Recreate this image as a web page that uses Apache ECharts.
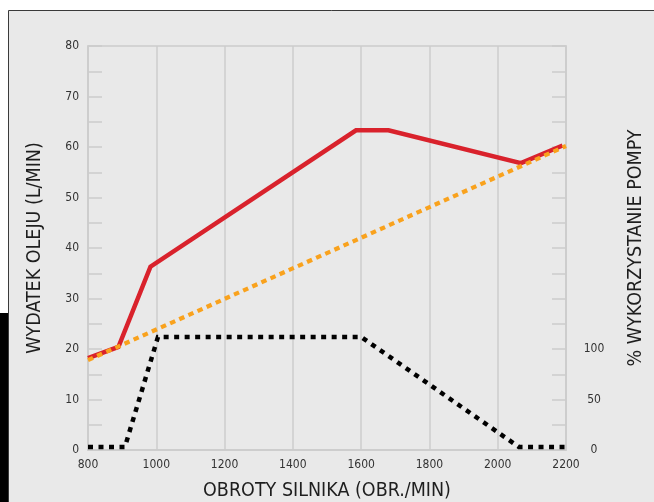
<!DOCTYPE html>
<html>
<head>
<meta charset="utf-8">
<script src="https://cdn.jsdelivr.net/npm/echarts@6/dist/echarts.min.js"></script>
<style>
html,body{margin:0;padding:0;background:#fff;}
#c{width:654px;height:502px;}
</style>
</head>
<body>
<div id="c"></div>
<script>
// Data
const xTicks = [800, 1000, 1200, 1400, 1600, 1800, 2000, 2200];
const leftTicks = [0, 10, 20, 30, 40, 50, 60, 70, 80];
const rightTicks = [0, 50, 100];
const oilFlow = [[800, 18.2], [889, 20.4], [983, 36.3], [1585, 63.3], [1680, 63.3], [2068, 56.8], [2190, 60.3]];
const pumpFlow = [[800, 17.8], [2200, 60.2]];
const pumpUsage = [[800, 3], [908, 3], [1005, 112], [1600, 112], [2062, 3], [2200, 3]];
const noteLines = ['1600 obr./min', '60 l/min'];
const noteAt = [1582, 70];

const FONT = '"Liberation Sans Narrow", "DejaVu Sans Condensed", "Liberation Sans", sans-serif';
const chart = echarts.init(document.getElementById('c'));
chart.setOption({
  backgroundColor: '#ffffff',
  animation: false,
  textStyle: { fontFamily: FONT },
  graphic: [
    { type: 'rect', z: -10, shape: { x: 8.5, y: 10.5, width: 660, height: 500 },
      style: { fill: '#e9e9e9', stroke: '#3a3a3a', lineWidth: 1 } },
    { type: 'rect', z: -9, shape: { x: 0, y: 313, width: 8, height: 189 }, style: { fill: '#000' } }
  ],
  grid: { left: 88, right: 88, top: 46, bottom: 52, show: true, borderColor: '#cccccc', borderWidth: 1.5,
    backgroundColor: 'transparent', containLabel: false, outerBoundsMode: 'none' },
  xAxis: {
    type: 'value', min: xTicks[0], max: xTicks[xTicks.length - 1], interval: 200,
    name: 'OBROTY SILNIKA (OBR./MIN)', nameLocation: 'middle', nameGap: 31,
    nameTextStyle: { fontSize: 19.5, color: '#1e1e1e', fontFamily: FONT },
    axisLine: { show: true, lineStyle: { color: '#cccccc', width: 1.5 } },
    axisTick: { show: false },
    splitLine: { show: true, lineStyle: { color: '#cccccc', width: 1.5 } },
    axisLabel: { color: '#333333', fontSize: 12, margin: 9, showMinLabel: true, showMaxLabel: true,
      formatter: v => xTicks.includes(v) ? String(v) : '' }
  },
  yAxis: [
    {
      type: 'value', min: 0, max: 80, interval: 5, position: 'left',
      name: 'WYDATEK OLEJU (L/MIN)', nameLocation: 'middle', nameGap: 43, nameRotate: 90,
      nameTextStyle: { fontSize: 19.5, color: '#1e1e1e', fontFamily: FONT },
      axisLine: { show: true, lineStyle: { color: '#cccccc', width: 1.5 } },
      axisTick: { show: true, inside: true, length: 14, lineStyle: { color: '#cccccc', width: 1.5 } },
      splitLine: { show: false },
      axisLabel: { color: '#333333', fontSize: 12, margin: 9,
        formatter: v => leftTicks.includes(v) ? String(v) : '' }
    },
    {
      type: 'value', min: 0, max: 400, interval: 25, position: 'right',
      name: '% WYKORZYSTANIE POMPY', nameLocation: 'middle', nameGap: 60, nameRotate: 90,
      nameTextStyle: { fontSize: 19.5, color: '#1e1e1e', fontFamily: FONT },
      axisLine: { show: true, lineStyle: { color: '#cccccc', width: 1.5 } },
      axisTick: { show: true, inside: true, length: 14, lineStyle: { color: '#cccccc', width: 1.5 } },
      splitLine: { show: false },
      axisLabel: { color: '#333333', fontSize: 12, margin: 28, align: 'center',
        formatter: v => rightTicks.includes(v) ? String(v) : '' }
    }
  ],
  series: [
    {
      type: 'line', data: pumpUsage, yAxisIndex: 1, symbol: 'none', z: 3,
      lineStyle: { color: '#000000', width: 4.5, type: [5, 5.5], cap: 'butt', join: 'miter' }
    },
    {
      type: 'line', data: oilFlow, symbol: 'none', z: 4,
      lineStyle: { color: '#d9222c', width: 4.5, join: 'miter' },
      markPoint: {
        symbol: 'none',
        data: [{ coord: noteAt, value: 0 }],
        label: { show: true, formatter: noteLines.join('\n'), color: '#2a2a2a', fontSize: 12.5, lineHeight: 17, fontFamily: FONT }
      }
    },
    {
      type: 'line', data: pumpFlow, symbol: 'none', z: 5,
      lineStyle: { color: '#f9a21d', width: 4.2, type: [5.5, 4.5], cap: 'butt' }
    }
  ]
});
</script>
</body>
</html>
